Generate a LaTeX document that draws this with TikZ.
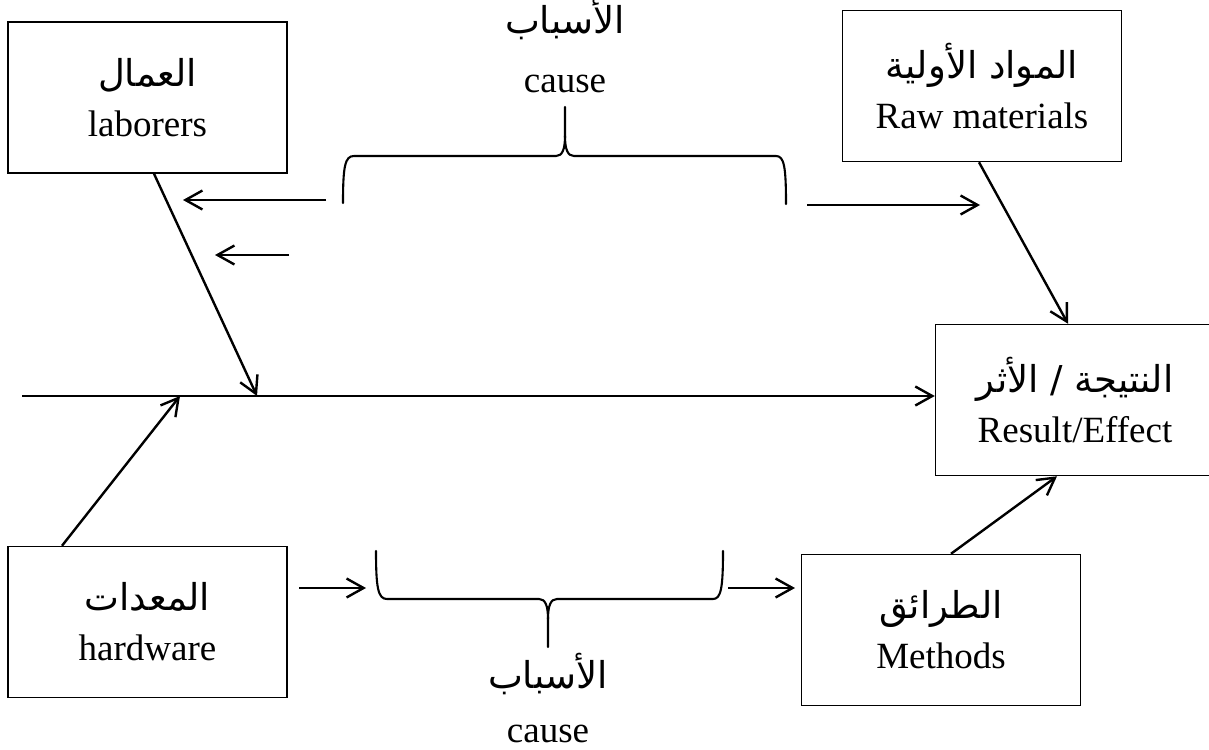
\documentclass[tikz,border=0pt]{standalone}
\usepackage{fontspec}
\setmainfont{Liberation Serif}
\newfontfamily\arabicfont[Script=Arabic]{DejaVu Sans}
\TeXXeTstate=1
\usetikzlibrary{arrows.meta,calc}

% Arabic text, set right to left
\newcommand{\artext}[1]{{\arabicfont\beginR #1\endR}}

\tikzset{
  catbox/.style={draw, line width=1.5pt, minimum width=279pt, minimum height=151pt,
    inner sep=0pt, align=center, font=\fontsize{37}{50}\selectfont},
  lbl/.style={inner sep=0pt, font=\fontsize{37}{50}\selectfont},
  arr/.style={line width=2.4pt, -{Straight Barb[length=17pt,width=19pt]}},
  bracepath/.style={line width=2.1pt, line cap=round, line join=round}
}

\begin{document}
\begin{tikzpicture}[x=1pt,y=-1pt]
  \clip (0,0) rectangle (1209,749);
  \fill[white] (0,0) rectangle (1209,749);

  % category boxes
  \node[catbox] (lab)  at (147.5,97.5) {\artext{العمال}\\laborers};
  \node[catbox] (raw)  at (982,86)     {\artext{المواد الأولية}\\Raw materials};
  \node[catbox] (res)  at (1075,400)   {\artext{النتيجة / الأثر}\\Result/Effect};
  \node[catbox] (hw)   at (147.5,622)  {\artext{المعدات}\\hardware};
  \node[catbox] (meth) at (941,630)    {\artext{الطرائق}\\Methods};

  % main spine
  \coordinate (tail) at (22,396);
  \coordinate (j1) at (257,396);
  \coordinate (j2) at (180,396);
  \draw[arr] (tail) -- (res.west |- tail);

  % branches into the spine and the result
  \draw[arr] ([xshift=6.5pt]lab.south) -- (j1);
  \draw[arr] ([xshift=-85.5pt]hw.north) -- (j2);
  \draw[arr] ([xshift=-3pt]raw.south) -- ([xshift=-7pt]res.north);
  \draw[arr] ([xshift=10pt]meth.north) -- ([xshift=-18pt]res.south);

  % cause arrows
  \coordinate (c1s) at (326,200); \coordinate (c1e) at (183,200);
  \coordinate (c2s) at (289,255); \coordinate (c2e) at (215,255);
  \coordinate (c3s) at (807,205); \coordinate (c3e) at (980,205);
  \coordinate (c4s) at (299,588); \coordinate (c4e) at (366,588);
  \coordinate (c5s) at (728,588); \coordinate (c5e) at (795,588);
  \draw[arr] (c1s) -- (c1e);
  \draw[arr] (c2s) -- (c2e);
  \draw[arr] (c3s) -- (c3e);
  \draw[arr] (c4s) -- (c4e);
  \draw[arr] (c5s) -- (c5e);

  % upper brace
  \draw[bracepath] (343,203) .. controls (343,166) and (345,156) .. (354,156)
    -- (556,156) .. controls (562,156) and (565,150) .. (565,136) -- (565,107);
  \draw[bracepath] (565,136) .. controls (565,150) and (568,156) .. (574,156)
    -- (776,156) .. controls (784,156) and (786,166) .. (786,204);

  % lower brace
  \draw[bracepath] (376,551) .. controls (376,588) and (378,599) .. (387,599)
    -- (539,599) .. controls (545,599) and (548,605) .. (548,619) -- (548,647);
  \draw[bracepath] (548,619) .. controls (548,605) and (551,599) .. (557,599)
    -- (713,599) .. controls (721,599) and (723,588) .. (723,551);

  % brace labels
  \node[lbl, anchor=base] (topar) at (565,34)  {\artext{الأسباب}};
  \node[lbl, anchor=base] (topen) at (565,93)  {cause};
  \node[lbl, anchor=base] (botar) at (548,688) {\artext{الأسباب}};
  \node[lbl, anchor=base] (boten) at (548,742) {cause};
\end{tikzpicture}
\end{document}
